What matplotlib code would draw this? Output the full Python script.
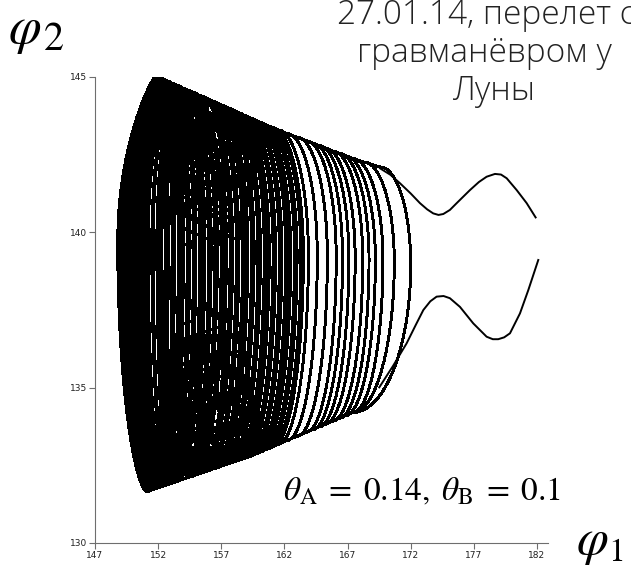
import numpy as np
import matplotlib
matplotlib.use("Agg")
import matplotlib.pyplot as plt

plt.rcParams['mathtext.fontset'] = 'stix'

# right-hand extent of every turn of the trajectory, inner turns first
right_x = [152.6, 152.8, 153.1, 153.3, 153.6, 153.8, 154.0, 154.3, 154.5, 154.8,
           155.0, 155.3, 155.5, 155.7, 156.0, 156.2, 156.5, 156.7, 157.0, 157.2,
           157.4, 157.7, 157.9, 158.2, 158.4, 158.7, 158.9, 159.1, 159.4, 159.6,
           159.9, 160.1, 160.4, 160.6, 160.8, 161.1, 161.3, 161.6, 161.8, 162.1,
           162.3, 162.5, 162.8, 163.0, 163.3, 163.5,
           163.9, 164.6, 165.4, 166.1, 166.6, 167.1, 167.6, 168.2, 168.7, 169.2,
           169.8, 170.7, 172.0]
# left-hand extent of the same turns
left_x = [151.2, 151.0, 150.8, 150.6, 150.4, 150.2, 151.1, 150.9, 150.7, 150.5,
          150.3, 150.1, 149.9, 151.2, 151.0, 150.8, 150.6, 150.4, 150.2, 150.0,
          152.3, 149.8, 151.1, 150.9, 150.7, 150.5, 150.3, 152.1, 151.9, 149.6,
          149.4, 150.5, 150.3, 150.1, 149.9, 149.7, 151.6, 151.5, 149.3, 149.1,
          150.2, 150.0, 149.8, 149.6, 149.4, 149.2,
          149.0, 149.6, 149.3, 149.0, 148.9, 148.8, 149.4, 149.1, 148.9, 148.8,
          149.2, 148.9, 148.8]
# how far the upper and lower run of each turn dips inside the envelope
inset = [0.0, 2.6, 4.8, 1.2, 3.6, 0.4, 2.0, 4.2, 1.6, 3.0,
         0.8, 4.6, 2.4, 0.2, 3.8, 1.4, 2.8, 4.4, 1.0, 3.4,
         0.6, 2.2, 5.0, 1.8, 3.2, 0.3, 4.0, 2.5, 1.1, 3.7,
         0.7, 4.5, 2.1, 1.5, 3.3, 0.5, 2.9, 4.1, 1.3, 3.5,
         0.9, 2.3, 1.9, 0.4, 1.2, 0.6,
         0.0, 0.0, 0.0, 0.0, 0.0, 0.0, 0.0, 0.0, 0.0, 0.0,
         0.0, 0.0, 0.0]

# upper and lower boundary of the bundle
top_x = [146.0, 152.0, 160.5, 167.2, 169.6, 173.0]
top_y = [146.1, 145.0, 143.45, 142.4, 142.1, 141.7]
bot_x = [146.0, 151.1, 159.3, 167.4, 172.0]
bot_y = [130.93, 131.65, 132.8, 134.2, 135.0]

# the two branches leaving the bundle
tail_up_x = [169.57, 170.40, 171.15, 172.00, 172.73, 173.30, 173.78, 174.20, 174.58,
             175.10, 175.64, 176.69, 177.40, 178.01, 178.67, 179.15, 179.60, 180.39,
             181.18, 181.89]
tail_up_y = [142.06, 141.85, 141.58, 141.25, 140.94, 140.74, 140.61, 140.56, 140.59,
             140.72, 140.94, 141.36, 141.62, 141.79, 141.88, 141.86, 141.74, 141.36,
             140.94, 140.48]
tail_lo_x = [169.51, 170.60, 171.68, 172.40, 173.00, 173.55, 174.05, 174.60, 175.10,
             175.90, 176.95, 178.01, 178.50, 178.93, 179.40, 179.86, 180.65, 181.31,
             182.10]
tail_lo_y = [135.01, 135.70, 136.43, 137.02, 137.50, 137.78, 137.93, 137.95, 137.88,
             137.60, 137.07, 136.64, 136.56, 136.56, 136.62, 136.75, 137.39, 138.14,
             139.11]


def turn(L, R, d):
    cl = 3.0 - 0.6 * (L - 148.8)
    cr = min(2.4, 0.35 * (R - L))
    xlt, xlb = L + cl, L + 0.77 * cl
    xrt = R - cr
    xrb = min(R - cr, 167.4)
    if xrt < xlt + 0.1:
        xlt = xrt = 0.5 * (xlt + xrt)
    if xrb < xlb + 0.1:
        xlb = xrb = 0.5 * (xlb + xrb)

    # the runs dip inside the envelope between the two sides
    def top(x):
        s = np.clip((x - xlt) / 1.2, 0, 1) * np.clip((xrt - x) / 0.8, 0, 1)
        return np.interp(x, top_x, top_y) - d * s

    def bot(x):
        s = np.clip((x - xlb) / 1.2, 0, 1) * np.clip((xrb - x) / 0.8, 0, 1)
        return np.interp(x, bot_x, bot_y) + d * s

    ya_r = bot(xrb) + 0.6 * (top(xrt) - bot(xrb))
    ya_l = bot(xlb) + 0.6 * (top(xlt) - bot(xlb))
    q = np.linspace(0, np.pi / 2, 40)
    a = q[::-1]

    xs, ys = [], []
    x = np.linspace(xlt, xrt, 80)
    xs.append(x); ys.append(top(x))
    xs.append(xrt + (R - xrt) * np.cos(a)); ys.append(ya_r + (top(xrt) - ya_r) * np.sin(a))
    xs.append(xrb + (R - xrb) * np.cos(q)); ys.append(ya_r - (ya_r - bot(xrb)) * np.sin(q))
    x = np.linspace(xrb, xlb, 80)
    xs.append(x); ys.append(bot(x))
    xs.append(xlb - (xlb - L) * np.cos(a) ** 1.2); ys.append(ya_l - (ya_l - bot(xlb)) * np.sin(a))
    xs.append(xlt - (xlt - L) * np.cos(q) ** 1.7); ys.append(ya_l + (top(xlt) - ya_l) * np.sin(q))
    return np.concatenate(xs), np.concatenate(ys)


fig = plt.figure(figsize=(6.31, 5.70), dpi=100)
ax = fig.add_axes([95 / 631, 27 / 570, 453 / 631, 466 / 570])

for L, R, d in zip(left_x, right_x, inset):
    x, y = turn(L, R, d)
    ax.plot(x, y, color='black', lw=1.4, antialiased=False)

ax.plot(tail_up_x, tail_up_y, color='black', lw=1.4)
ax.plot(tail_lo_x, tail_lo_y, color='black', lw=1.4)

ax.set_xlim(147, 182.87)
ax.set_ylim(130, 145)
ax.set_xticks([147, 152, 157, 162, 167, 172, 177, 182])
ax.set_yticks([130, 135, 140, 145])
for s in ['top', 'right']:
    ax.spines[s].set_visible(False)
for s in ['left', 'bottom']:
    ax.spines[s].set_color('#6e6e6e')
    ax.spines[s].set_linewidth(0.8)
ax.tick_params(direction='out', length=4, width=0.8, color='#6e6e6e',
               labelsize=6.5, pad=1.5, labelcolor='#202020')

# axis names, drawn as a big italic phi with a separate index digit
fig.text(8 / 631, 1 - 43 / 570, r'$\varphi$', fontsize=38, va='baseline')
fig.text(44 / 631, 1 - 50 / 570, '2', fontsize=29, va='baseline', family='STIXGeneral')
fig.text(576 / 631, 1 - 554 / 570, r'$\varphi$', fontsize=37, va='baseline')
fig.text(608 / 631, 2 / 570, '1', fontsize=24, va='bottom', family='STIXGeneral')

fig.text(283 / 631, 1 - 500 / 570,
         r'$\theta_{\rm A}\;=\;0.14,\;\theta_{\rm B}\;=\;0.1$',
         fontsize=24, va='baseline')

title_lines = ['27.01.14, перелет с', 'гравманёвром у', 'Луны']
title_cx = [486, 484, 494]
title_base = [24, 62, 100]
for line, xc, yb in zip(title_lines, title_cx, title_base):
    fig.text(xc / 631, 1 - yb / 570, line, fontsize=24, ha='center', va='baseline',
             family='Open Sans', weight='light', color='#222222')

fig.savefig('out.png', dpi=100)
